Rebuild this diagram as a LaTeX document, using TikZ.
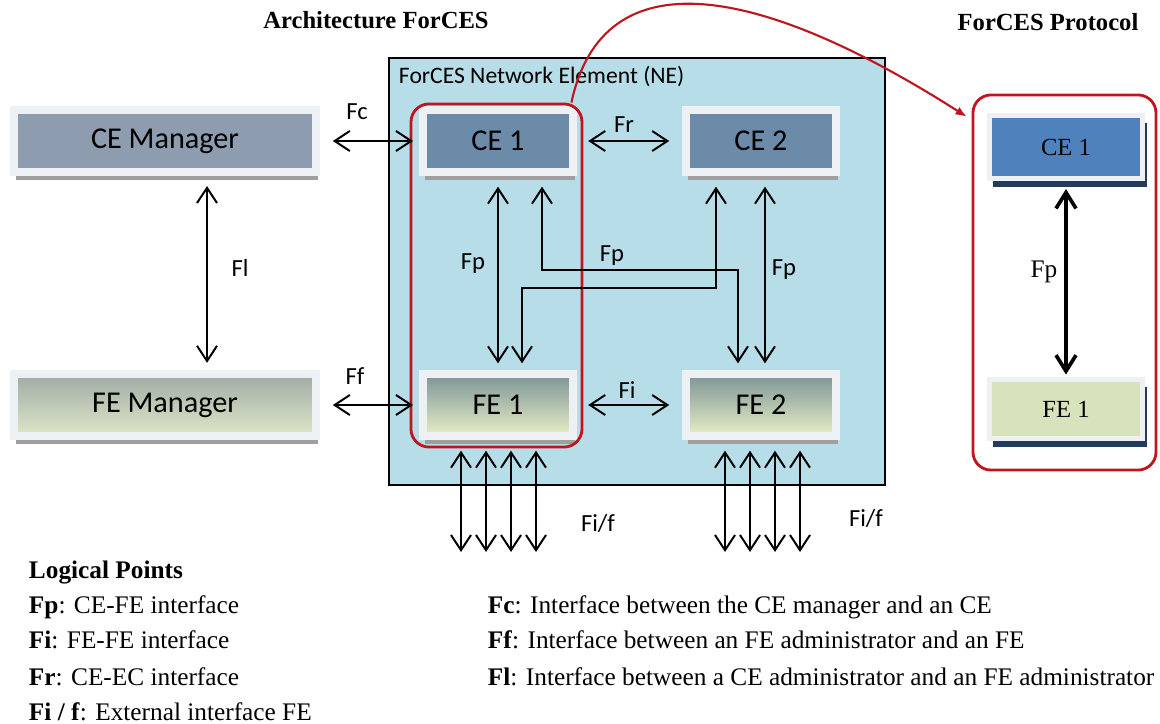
\documentclass[tikz,border=0pt]{standalone}
\usepackage{fontspec}
\setmainfont{Liberation Serif}
\newfontfamily\calib{Carlito}
\usepackage{xcolor}
\usepackage{tikz}
\usetikzlibrary{positioning,arrows.meta,shadows}

\definecolor{neblue}{RGB}{183,221,232}
\definecolor{cemgr}{RGB}{142,156,175}
\definecolor{cebox}{RGB}{107,139,169}
\definecolor{fetop}{RGB}{124,149,150}
\definecolor{febot}{RGB}{232,238,198}
\definecolor{fmtop}{RGB}{160,170,165}
\definecolor{fmbot}{RGB}{222,232,200}
\definecolor{pce}{RGB}{79,129,189}
\definecolor{pfe}{RGB}{214,227,188}
\definecolor{boxframe}{RGB}{238,241,244}
\definecolor{fred}{RGB}{190,22,30}
\definecolor{navy}{RGB}{36,60,92}

\begin{document}
\begin{tikzpicture}[x=0.025cm,y=-0.025cm,
  box/.style={draw=boxframe,line width=0.2cm,minimum width=3.75cm,minimum height=1.525cm,
    font=\calib\fontsize{21.5}{24}\selectfont,
    drop shadow={shadow xshift=0.06cm,shadow yshift=-0.2cm,fill=gray!75,opacity=1}},
  mgr/.style={box,minimum width=7.55cm,minimum height=1.55cm},
  febox/.style={top color=fetop,bottom color=febot},
  pbox/.style={draw=boxframe,line width=0.125cm,minimum width=3.825cm,minimum height=1.575cm,
    font=\fontsize{17.5}{20}\selectfont,
    drop shadow={shadow xshift=0.1cm,shadow yshift=-0.2cm,fill=navy,opacity=1}},
  grp/.style={draw=fred,line width=2pt,rounded corners=0.45cm},
  dbl/.style={line width=1.4pt,{Straight Barb[length=3.8mm,width=5mm]}-{Straight Barb[length=3.8mm,width=5mm]}},
  lbl/.style={font=\calib\fontsize{17.5}{20}\selectfont},
  ttl/.style={font=\bfseries\fontsize{17.5}{20}\selectfont},
  leg/.style={anchor=west,font=\fontsize{18}{20}\selectfont}]
\useasboundingbox (0,0) rectangle (1160,724);

\node[ttl] (t1) at (376,20) {Architecture ForCES};
\node[ttl] (t2) at (1048,22) {ForCES Protocol};

\node[draw,fill=neblue,line width=1pt,minimum width=12.4cm,minimum height=10.675cm] (ne) at (637,271.5) {};
\node[anchor=west,font=\calib\fontsize{16.8}{20}\selectfont] (nelbl) at (394,76) {ForCES Network Element (NE)};

\node[mgr,fill=cemgr] (cem) at (165,141) {CE Manager};
\node[mgr,top color=fmtop,bottom color=fmbot] (fem) at (165,405) {FE Manager};
\node[box,fill=cebox] (ce1) at (498,141) {CE 1};
\node[box,fill=cebox] (ce2) at (761,141) {CE 2};
\node[box,febox] (fe1) at (498,405) {FE 1};
\node[box,febox] (fe2) at (761,405) {FE 2};

\node[grp,minimum width=4.275cm,minimum height=8.575cm] (g1) at (496.5,275.5) {};
\node[grp,minimum width=4.575cm,minimum height=9.375cm] (prot) at (1064.5,282.5) {};
\node[pbox,fill=pce] (pce1) at (1066,147) {CE 1};
\node[pbox,fill=pfe,minimum height=1.475cm] (pfe1) at (1066,409) {FE 1};

\draw[dbl,shorten <=0.32cm,shorten >=0.15cm] (cem.east) -- (ce1.west);
\draw[dbl,shorten <=0.32cm,shorten >=0.15cm] (fem.east) -- (fe1.west);
\draw[dbl,shorten <=0.25cm,shorten >=0.18cm] ([xshift=1.05cm]cem.south) -- ([xshift=1.05cm]fem.north);
\draw[dbl,shorten <=0.28cm,shorten >=0.32cm] (ce1.east) -- (ce2.west);
\draw[dbl,shorten <=0.28cm,shorten >=0.32cm] (fe1.east) -- (fe2.west);
\draw[dbl,shorten <=0.28cm,shorten >=0.18cm] (ce1.south) -- (fe1.north);
\draw[dbl,shorten <=0.28cm,shorten >=0.18cm] ([xshift=0.1cm]ce2.south) -- ([xshift=0.1cm]fe2.north);
\coordinate (j1) at (640,270);
\coordinate (j2) at (620,288);
\draw[dbl,shorten <=0.28cm,shorten >=0.18cm] ([xshift=1.1cm]ce1.south) |- (j1) -| ([xshift=-0.575cm]fe2.north);
\draw[dbl,shorten <=0.28cm,shorten >=0.18cm] ([xshift=-1.125cm]ce2.south) |- (j2) -| ([xshift=0.6cm]fe1.north);
\foreach \dx [count=\k] in {-37,-12,13,38}{
  \coordinate (xa\k) at (498+\dx,552);
  \coordinate (xb\k) at (762+\dx,552);
  \draw[dbl,shorten <=0.28cm] (xa\k |- fe1.south) -- (xa\k);
  \draw[dbl,shorten <=0.28cm] (xb\k |- fe2.south) -- (xb\k);
}
\draw[line width=2.6pt,{Straight Barb[length=4mm,width=5mm]}-{Straight Barb[length=4mm,width=5mm]},
  shorten <=0.2cm,shorten >=0.06cm] (pce1.south) -- (pfe1.north);
\draw[fred,line width=1.5pt,-{Latex[length=2.8mm,width=2.2mm]}]
  ([xshift=-0.3cm]g1.north east) .. controls (603,-45) and (760,-15) .. ([xshift=-0.12cm,yshift=-0.58cm]prot.north west);

\node[lbl] (lfc) at (357,112) {Fc};
\node[lbl] (lff) at (355,376) {Ff};
\node[lbl] (lfl) at (240,268) {Fl};
\node[lbl] (lfr) at (624,125) {Fr};
\node[lbl] (lfi) at (627,390) {Fi};
\node[lbl] (lfp1) at (473,264) {Fp};
\node[lbl] (lfp2) at (612,256) {Fp};
\node[lbl] (lfp3) at (784,270) {Fp};
\node[lbl] (lx1) at (598,523) {Fi/f};
\node[lbl] (lx2) at (866,518) {Fi/f};
\node[font=\fontsize{18}{20}\selectfont] (lfp4) at (1044,272) {Fp};

\node[leg,font=\bfseries\fontsize{18}{20}\selectfont] (lp) at (24,573) {Logical Points};
\node[leg] (d1) at (24,607) {\textbf{Fp}: CE-FE interface};
\node[leg] (d2) at (24,640) {\textbf{Fi}: FE-FE interface};
\node[leg] (d3) at (24,677) {\textbf{Fr}: CE-EC interface};
\node[leg] (d4) at (24,712) {\textbf{Fi / f}: External interface FE};
\node[leg] (d5) at (483,607) {\textbf{Fc}: Interface between the CE manager and an CE};
\node[leg] (d6) at (483,640) {\textbf{Ff}: Interface between an FE administrator and an FE};
\node[leg] (d7) at (483,677) {\textbf{Fl}: Interface between a CE administrator and an FE administrator};
\end{tikzpicture}
\end{document}
